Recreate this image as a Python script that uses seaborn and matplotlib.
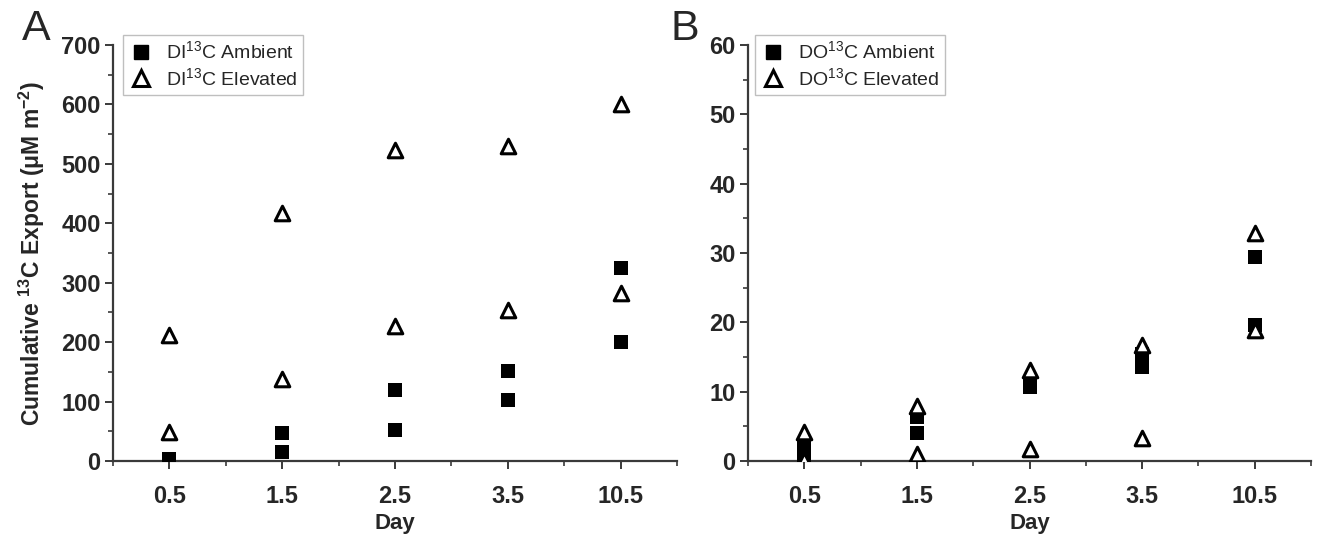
import matplotlib
matplotlib.use("Agg")
import matplotlib.pyplot as plt
import seaborn as sns
import pandas as pd
from matplotlib.lines import Line2D
from matplotlib.ticker import MultipleLocator, FixedLocator

# ---- data ----
days = ["0.5", "1.5", "2.5", "3.5", "10.5"]

dic_ambient_a = [3, 47, 119, 151, 325]
dic_ambient_b = [0, 15, 52, 103, 200]
dic_elevated_a = [212, 417, 523, 530, 600]
dic_elevated_b = [49, 138, 227, 254, 283]

doc_ambient_a = [2.3, 6.3, 11.2, 15.5, 29.4]
doc_ambient_b = [0.8, 4.0, 10.7, 13.6, 19.6]
doc_elevated_a = [4.2, 8.0, 13.1, 16.7, 32.9]
doc_elevated_b = [0.2, 1.0, 1.7, 3.3, 18.9]

sns.set_theme(style="ticks")
plt.rcParams["font.family"] = ["Liberation Sans", "DejaVu Sans"]
plt.rcParams["mathtext.fontset"] = "custom"
plt.rcParams["mathtext.rm"] = "Liberation Sans"
plt.rcParams["mathtext.it"] = "Liberation Sans:italic"
plt.rcParams["mathtext.bf"] = "Liberation Sans:bold"
plt.rcParams["mathtext.default"] = "regular"


def long_df(a, b):
    return pd.DataFrame({"day": days + days, "value": list(a) + list(b)})


fig = plt.figure(figsize=(13.19, 5.37), dpi=100)
W, H = 1319, 537
axA = fig.add_axes([113 / W, 1 - 461 / H, (677 - 113) / W, (461 - 45) / H])
axB = fig.add_axes([748 / W, 1 - 461 / H, (1311 - 748) / W, (461 - 45) / H])

axis_col = "#3a3a3a"
tick_fs = 17


def draw(ax, amb_a, amb_b, el_a, el_b, ymax, ymajor, yminor, names, leg_x):
    sns.stripplot(data=long_df(amb_a, amb_b), x="day", y="value", order=days,
                  jitter=False, marker="s", size=10, color="black",
                  linewidth=0, ax=ax, zorder=3)
    sns.stripplot(data=long_df(el_a, el_b), x="day", y="value", order=days,
                  jitter=False, marker="^", size=10.5, color="white",
                  edgecolor="black", linewidth=2.2, ax=ax, zorder=4)
    ax.set_xlim(-0.5, 4.5)
    ax.set_ylim(0, ymax)
    ax.yaxis.set_major_locator(MultipleLocator(ymajor))
    ax.yaxis.set_minor_locator(MultipleLocator(yminor))
    ax.xaxis.set_minor_locator(FixedLocator([-0.5, 0.5, 1.5, 2.5, 3.5, 4.5]))
    for s in ["top", "right"]:
        ax.spines[s].set_visible(False)
    for s in ["left", "bottom"]:
        ax.spines[s].set_color(axis_col)
        ax.spines[s].set_linewidth(1.6)
    ax.tick_params(which="major", length=6, width=1.4, color=axis_col,
                   direction="out", labelsize=tick_fs)
    ax.tick_params(axis="x", which="major", pad=11)
    ax.tick_params(axis="y", which="major", pad=3)
    ax.tick_params(which="minor", length=3.5, width=1.2, color=axis_col,
                   direction="out")
    for lab in ax.get_xticklabels() + ax.get_yticklabels():
        lab.set_fontweight("bold")
    ax.set_xlabel("Day", fontsize=16, fontweight="bold", labelpad=4)
    ax.set_ylabel("")
    handles = [
        Line2D([], [], marker="s", color="black", linestyle="", markersize=10.5),
        Line2D([], [], marker="^", markerfacecolor="white", markeredgecolor="black",
               markeredgewidth=2.2, linestyle="", markersize=11),
    ]
    leg = ax.legend(handles, names, loc="upper left",
                    bbox_to_anchor=(leg_x, 1.025), fontsize=14, frameon=True,
                    fancybox=False, edgecolor="#b0b0b0", borderpad=0.3,
                    handletextpad=0.7, labelspacing=0.25, handlelength=1.2,
                    borderaxespad=0)
    leg.get_frame().set_linewidth(1.0)


draw(axA, dic_ambient_a, dic_ambient_b, dic_elevated_a, dic_elevated_b,
     700, 100, 50,
     ["DI$^{13}$C Ambient", "DI$^{13}$C Elevated"], (123 - 113) / (677 - 113))
draw(axB, doc_ambient_a, doc_ambient_b, doc_elevated_a, doc_elevated_b,
     60, 10, 5,
     ["DO$^{13}$C Ambient", "DO$^{13}$C Elevated"], (755 - 748) / (1311 - 748))

axA.set_ylabel("Cumulative $^{\\mathbf{13}}$C Export (μM m$^{\\mathbf{-2}}$)",
               fontsize=16.5, fontweight="bold", labelpad=10)

fig.text(22 / W, 1 - 40 / H, "A", fontsize=31, ha="left", va="baseline")
fig.text(670 / W, 1 - 40 / H, "B", fontsize=31, ha="left", va="baseline")

fig.savefig("out.png", dpi=100)
